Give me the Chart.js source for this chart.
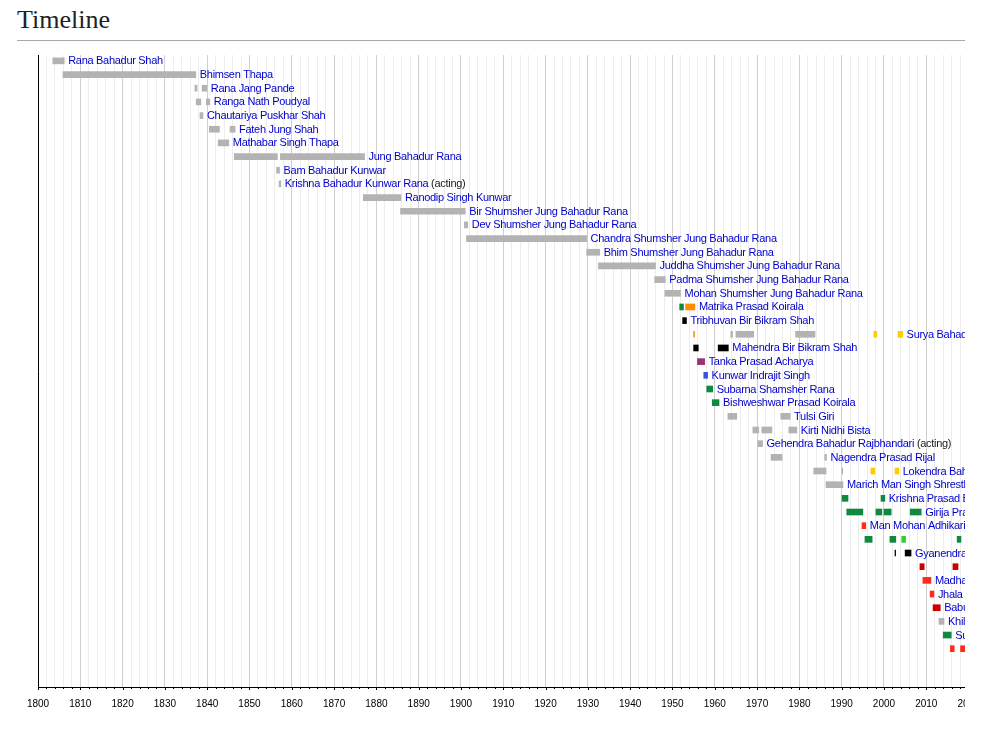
<!DOCTYPE html>
<html>
<head>
<meta charset="utf-8">
<title>Timeline</title>
<script src="https://cdn.jsdelivr.net/npm/chart.js@4/dist/chart.umd.min.js"></script>
<style>
  body { margin: 0; background: #fff; }
  #frame { position: absolute; left: 0; top: 0; width: 965px; height: 733px; overflow: hidden; }
  h2 { position: absolute; left: 17px; top: 5px; margin: 0; font: normal 26px "Liberation Serif", serif; line-height: normal; color: #202122; }
  #rule { position: absolute; left: 17px; top: 40px; width: 948px; height: 1px; background: #a2a9b1; }
  canvas { position: absolute; left: 0; top: 0; }
</style>
</head>
<body>
<div id="frame">
  <h2>Timeline</h2>
  <div id="rule"></div>
  <canvas id="timeline" width="1033" height="733"></canvas>
</div>
<script>
// one row per prime minister, top to bottom
const names = [
  "Rana Bahadur Shah", "Bhimsen Thapa", "Rana Jang Pande", "Ranga Nath Poudyal",
  "Chautariya Puskhar Shah", "Fateh Jung Shah", "Mathabar Singh Thapa", "Jung Bahadur Rana",
  "Bam Bahadur Kunwar", "Krishna Bahadur Kunwar Rana", "Ranodip Singh Kunwar",
  "Bir Shumsher Jung Bahadur Rana", "Dev Shumsher Jung Bahadur Rana",
  "Chandra Shumsher Jung Bahadur Rana", "Bhim Shumsher Jung Bahadur Rana",
  "Juddha Shumsher Jung Bahadur Rana", "Padma Shumsher Jung Bahadur Rana",
  "Mohan Shumsher Jung Bahadur Rana", "Matrika Prasad Koirala", "Tribhuvan Bir Bikram Shah",
  "Surya Bahadur Thapa", "Mahendra Bir Bikram Shah", "Tanka Prasad Acharya",
  "Kunwar Indrajit Singh", "Subarna Shamsher Rana", "Bishweshwar Prasad Koirala",
  "Tulsi Giri", "Kirti Nidhi Bista", "Gehendra Bahadur Rajbhandari", "Nagendra Prasad Rijal",
  "Lokendra Bahadur Chand", "Marich Man Singh Shrestha", "Krishna Prasad Bhattarai",
  "Girija Prasad Koirala", "Man Mohan Adhikari", "Sher Bahadur Deuba",
  "Gyanendra Bir Bikram Shah", "Pushpa Kamal Dahal", "Madhav Kumar Nepal",
  "Jhala Nath Khanal", "Baburam Bhattarai", "Khil Raj Regmi", "Sushil Koirala",
  "Khadga Prasad Sharma Oli"
];
const notes = { 9: "(acting)", 28: "(acting)" };

// terms as [row, from, to] (years), grouped by bar colour
const grayTerms = [
  [0, 1803.5, 1806.2], [1, 1805.9, 1837.3], [2, 1837.1, 1837.6], [2, 1838.8, 1839.9],
  [3, 1837.4, 1838.5], [3, 1839.8, 1840.6], [4, 1838.3, 1839.0], [5, 1840.5, 1842.9],
  [5, 1845.4, 1846.6], [6, 1842.6, 1845.1], [7, 1846.4, 1856.6], [7, 1857.3, 1877.2],
  [8, 1856.4, 1857.1], [9, 1857.0, 1857.4], [10, 1876.9, 1885.8], [11, 1885.7, 1901.0],
  [12, 1900.8, 1901.6], [13, 1901.3, 1929.7], [14, 1929.7, 1932.8], [15, 1932.5, 1946.0],
  [16, 1945.8, 1948.3], [17, 1948.2, 1951.9],
  [20, 1963.8, 1964.2], [20, 1965.0, 1969.2], [20, 1979.1, 1983.7],
  [26, 1963.1, 1965.2], [26, 1975.6, 1977.8],
  [27, 1969.0, 1970.4], [27, 1971.1, 1973.5], [27, 1977.5, 1979.4],
  [28, 1970.2, 1971.3], [29, 1973.3, 1975.9], [29, 1986.0, 1986.4],
  [30, 1983.4, 1986.3], [30, 1990.1, 1990.25], [31, 1986.3, 1990.3], [41, 2013.0, 2014.2]
];
const congressTerms = [
  [18, 1951.7, 1952.6], [24, 1958.1, 1959.5], [25, 1959.4, 1961.0],
  [32, 1990.1, 1991.5], [32, 1999.3, 2000.2],
  [33, 1991.2, 1995.0], [33, 1998.1, 1999.5], [33, 2000.0, 2001.7], [33, 2006.2, 2008.8],
  [35, 1995.5, 1997.2], [35, 2001.4, 2002.8], [35, 2017.3, 2018.2], [35, 2021.5, 2022.9],
  [42, 2014.0, 2015.9]
];
const democraticTerms = [[35, 2004.2, 2005.1]];
const orangeTerms = [[18, 1953.1, 1955.3], [20, 1955.0, 1955.2]];
const royalTerms = [
  [19, 1952.4, 1953.3], [21, 1955.0, 1956.1], [21, 1960.8, 1963.2],
  [36, 2002.6, 2002.75], [36, 2005.0, 2006.4]
];
const rppTerms = [[20, 1997.6, 1998.3], [20, 2003.3, 2004.4], [30, 1996.9, 1997.8], [30, 2002.6, 2003.5]];
const purpleTerms = [[22, 1955.9, 1957.6]];
const blueTerms = [[23, 1957.4, 1958.3]];
const umlTerms = [[34, 1994.8, 1995.7], [38, 2009.2, 2011.1], [39, 2010.9, 2011.8], [43, 2015.7, 2016.6], [43, 2018.1, 2021.5]];
const maoistTerms = [[37, 2008.5, 2009.5], [37, 2016.3, 2017.5], [37, 2022.9, 2024.5], [40, 2011.6, 2013.3]];

const groups = [
  [grayTerms, "#b3b3b3"], [congressTerms, "#11883f"], [democraticTerms, "#33cc33"],
  [orangeTerms, "#ff8c00"], [royalTerms, "#000000"], [rppTerms, "#ffcc00"],
  [purpleTerms, "#993377"], [blueTerms, "#3355dd"], [umlTerms, "#ff2a1a"], [maoistTerms, "#cc0000"]
];
const allTerms = groups.flatMap(g => g[0]);

const nameLabels = {
  id: "nameLabels",
  afterDatasetsDraw(chart) {
    const { ctx, scales: { x, y } } = chart;
    const lastEnd = names.map(() => -Infinity);
    allTerms.forEach(([r, , e]) => { if (e > lastEnd[r]) lastEnd[r] = e; });
    ctx.save();
    ctx.font = '11px "Liberation Sans", Arial, sans-serif';
    ctx.letterSpacing = "-0.3px";
    ctx.textBaseline = "middle";
    names.forEach((n, r) => {
      let px = x.getPixelForValue(lastEnd[r]) + 4;
      const py = y.getPixelForValue(r) + 0.5;
      ctx.fillStyle = "#0000cc";
      ctx.fillText(n, px, py);
      if (notes[r]) {
        px += ctx.measureText(n + " ").width;
        ctx.fillStyle = "#222";
        ctx.fillText(notes[r], px, py);
      }
    });
    ctx.restore();
  }
};

// small tick marks under the axis every 2 years
const tickMarks = {
  id: "tickMarks",
  afterDraw(chart) {
    const { ctx, scales: { x } } = chart;
    ctx.save();
    ctx.strokeStyle = "#000";
    ctx.lineWidth = 1;
    x.ticks.forEach(t => {
      const px = Math.round(x.getPixelForValue(t.value)) + 0.5;
      const len = t.value % 10 === 0 ? 3 : 2;
      ctx.beginPath();
      ctx.moveTo(px, x.top);
      ctx.lineTo(px, x.top + len);
      ctx.stroke();
    });
    ctx.restore();
  }
};

new Chart(document.getElementById("timeline"), {
  type: "bar",
  data: {
    datasets: groups.map(([terms, color]) => ({
      data: terms.map(([r, s, e]) => ({ x: [s, e], y: r })),
      backgroundColor: color,
      borderWidth: 0,
      barThickness: 6,
      grouped: false
    }))
  },
  options: {
    indexAxis: "y",
    responsive: false,
    animation: false,
    layout: { padding: { left: 38, top: 55, right: 20, bottom: 12 } },
    plugins: { legend: { display: false }, tooltip: { enabled: false } },
    scales: {
      x: {
        type: "linear",
        min: 1800,
        max: 2030,
        grid: {
          color: c => (c.tick && c.tick.value % 10 === 0 ? "#d0d0d0" : "#ededed"),
          drawTicks: false
        },
        border: { display: true, color: "#000", width: 1 },
        ticks: {
          stepSize: 2,
          autoSkip: false,
          maxRotation: 0,
          padding: 11,
          color: "#000",
          font: { family: '"Liberation Sans", Arial, sans-serif', size: 10 },
          callback: v => (v % 10 === 0 ? String(v) : "")
        }
      },
      y: {
        type: "linear",
        reverse: true,
        offset: false,
        min: -0.43,
        max: 45.8,
        grid: { display: false, drawTicks: false, offset: false },
        border: { display: true, color: "#000", width: 1 },
        ticks: { display: false }
      }
    }
  },
  plugins: [nameLabels, tickMarks]
});
</script>
</body>
</html>
